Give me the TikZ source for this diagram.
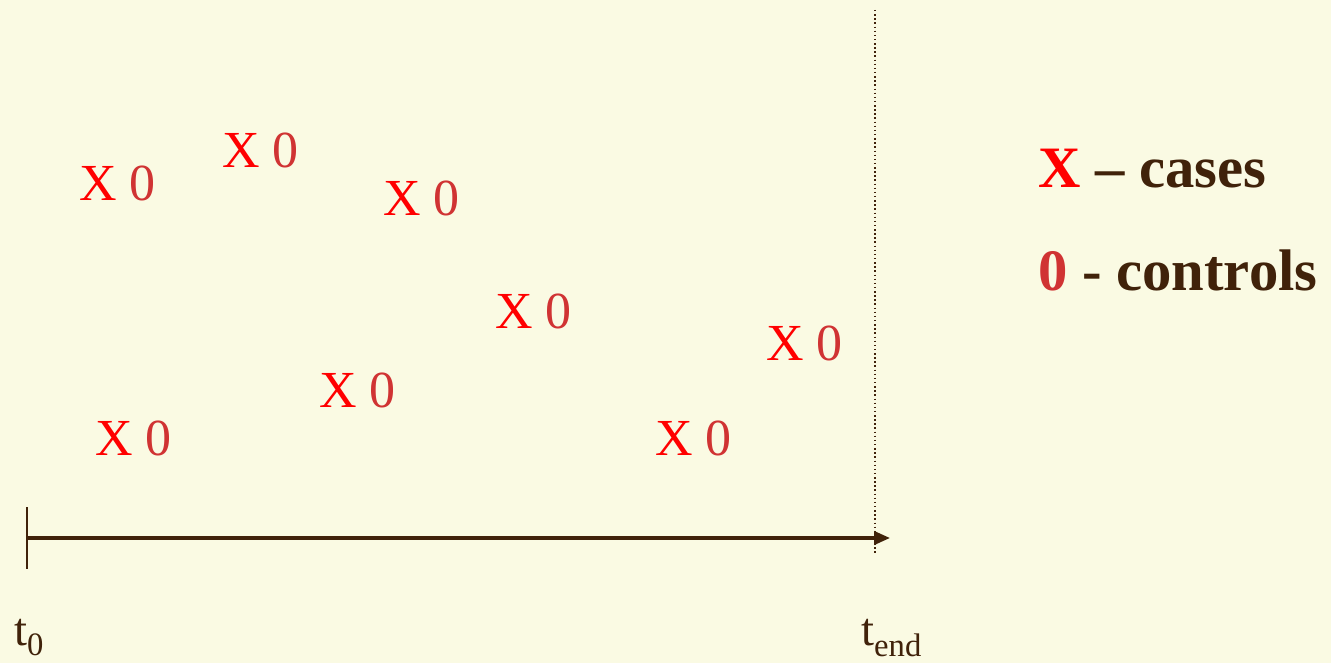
\documentclass[tikz,border=0pt]{standalone}
\usepackage{fontspec}
\setmainfont{Liberation Serif}
\usetikzlibrary{arrows.meta}
\definecolor{bg}{HTML}{FAFAE3}
\definecolor{xred}{HTML}{FF0000}
\definecolor{ored}{HTML}{D03333}
\definecolor{brn}{HTML}{40220A}
\tikzset{
  pair/.style={anchor=base west, inner sep=0pt, font=\fontsize{39}{42}\selectfont},
  legend/.style={anchor=base west, inner sep=0pt, text=brn, font=\fontsize{44}{50}\selectfont\bfseries},
  tlabel/.style={anchor=base west, inner sep=0pt, text=brn, font=\fontsize{35}{38}\selectfont},
  axis/.style={brn, line width=2.4pt, -{Triangle[length=12pt,width=10pt]}},
  tick/.style={brn, line width=1pt},
  endline/.style={brn, line width=1.1pt, dotted}
}
\newcommand{\xo}{\textcolor{xred}{X} \textcolor{ored}{0}}
\begin{document}
\begin{tikzpicture}[x=0.75pt,y=-0.75pt]
\fill[bg] (0,0) rectangle (1331,663);
\useasboundingbox (0,0) rectangle (1331,663);
% case/control pairs
\node[pair] (p1) at (79,200) {\xo};
\node[pair] (p2) at (222,168) {\xo};
\node[pair] (p3) at (383,215) {\xo};
\node[pair] (p4) at (495,328) {\xo};
\node[pair] (p5) at (766,360) {\xo};
\node[pair] (p6) at (319,407) {\xo};
\node[pair] (p7) at (95,455) {\xo};
\node[pair] (p8) at (655,455) {\xo};
% legend
\node[legend] (l1) at (1038,188) {\textcolor{xred}{X} – cases};
\node[legend] (l2) at (1038,290) {\textcolor{ored}{0} - controls};
% axis
\coordinate (tk0) at (27,507);
\coordinate (tk1) at (27,569);
\coordinate (a0) at (27,538);
\coordinate (a1) at (890,538);
\coordinate (e0) at (875,10);
\coordinate (e1) at (875,553);
\draw[tick] (tk0) -- (tk1);
\draw[endline] (e0) -- (e1);
\draw[axis] (a0) -- (a1);
% time labels
\node[tlabel] (t0) at (14,645) {t\textsubscript{0}};
\node[tlabel] (tend) at (861,645) {t\textsubscript{end}};
\end{tikzpicture}
\end{document}
